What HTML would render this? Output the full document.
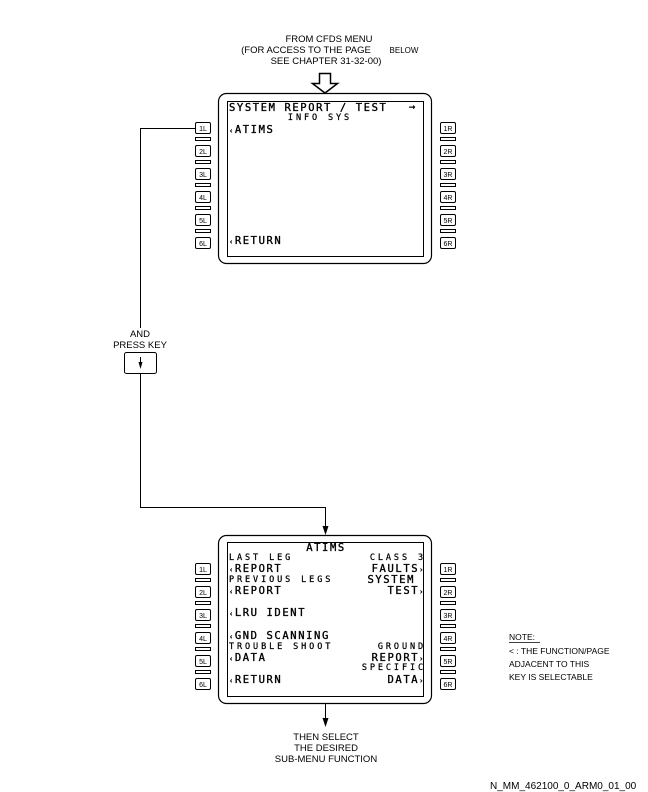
<!DOCTYPE html>
<html><head><style>
body{margin:0;background:#fff;}
svg{display:block;}
text{font-family:"Liberation Sans",sans-serif;fill:#000;}
.m{font-family:"DejaVu Sans Mono","Liberation Mono",monospace;font-size:10.5px;letter-spacing:1.6px;stroke:#000;stroke-width:0.35px;}
.s{font-family:"DejaVu Sans Mono","Liberation Mono",monospace;font-size:8.5px;letter-spacing:2.9px;stroke:#000;stroke-width:0.25px;}
.k{font-family:"Liberation Mono",monospace;font-size:7px;}
</style></head><body>
<svg width="648" height="792" viewBox="0 0 648 792" xmlns="http://www.w3.org/2000/svg">
<g font-size="9.5" text-anchor="middle">
<text x="329" y="42">FROM CFDS MENU</text>
<text x="306" y="53">(FOR ACCESS TO THE PAGE</text>
<text x="404" y="53" font-size="8">BELOW</text>
<text x="326" y="64">SEE CHAPTER 31-32-00)</text>
</g>
<path d="M319.5 73.5 H330.5 V83.5 H337.5 L325 93 L312.5 83.5 H319.5 Z" fill="none" stroke="#000" stroke-width="1.5"/>

<rect x="218.5" y="93.5" width="213" height="170" rx="8" fill="none" stroke="#000" stroke-width="1.2"/>
<rect x="227.5" y="101.5" width="196" height="155" fill="none" stroke="#000"/>
<text class="m" x="229" y="111">SYSTEM REPORT / TEST</text>
<text class="m" x="409" y="110">→</text>
<text class="s" x="320" y="120" text-anchor="middle">INFO SYS</text>
<text class="m" x="229" y="133"><tspan font-size="7">‹</tspan>ATIMS</text>
<text class="m" x="229" y="244"><tspan font-size="7">‹</tspan>RETURN</text>

<rect x="218.5" y="535.5" width="213" height="168" rx="8" fill="none" stroke="#000" stroke-width="1.2"/>
<rect x="227.5" y="542.5" width="196" height="154" fill="none" stroke="#000"/>
<text class="m" x="326" y="551" text-anchor="middle">ATIMS</text>
<text class="s" x="229" y="560">LAST LEG</text>
<text class="s" x="426" y="560" text-anchor="end">CLASS 3</text>
<text class="m" x="229" y="572"><tspan font-size="7">‹</tspan>REPORT</text>
<text class="m" x="425" y="572" text-anchor="end">FAULTS<tspan font-size="7">›</tspan></text>
<text class="s" x="229" y="582">PREVIOUS LEGS</text>
<text class="m" x="415" y="583" text-anchor="end">SYSTEM</text>
<text class="m" x="229" y="594"><tspan font-size="7">‹</tspan>REPORT</text>
<text class="m" x="425" y="594" text-anchor="end">TEST<tspan font-size="7">›</tspan></text>
<text class="m" x="229" y="616"><tspan font-size="7">‹</tspan>LRU IDENT</text>
<text class="m" x="229" y="639"><tspan font-size="7">‹</tspan>GND SCANNING</text>
<text class="s" x="229" y="649">TROUBLE SHOOT</text>
<text class="s" x="426" y="649" text-anchor="end">GROUND</text>
<text class="m" x="229" y="661"><tspan font-size="7">‹</tspan>DATA</text>
<text class="m" x="425" y="661" text-anchor="end">REPORT<tspan font-size="7">›</tspan></text>
<text class="s" x="426" y="670" text-anchor="end">SPECIFIC</text>
<text class="m" x="229" y="683"><tspan font-size="7">‹</tspan>RETURN</text>
<text class="m" x="425" y="683" text-anchor="end">DATA<tspan font-size="7">›</tspan></text>

<g fill="none" stroke="#000" stroke-width="1">
<g id="kt">
<rect x="195.5" y="122.5" width="15" height="11" rx="1.5"/>
<rect x="195.5" y="137.5" width="15" height="3"/>
<rect x="195.5" y="145.5" width="15" height="11" rx="1.5"/>
<rect x="195.5" y="160.5" width="15" height="3"/>
<rect x="195.5" y="168.5" width="15" height="11" rx="1.5"/>
<rect x="195.5" y="183.5" width="15" height="3"/>
<rect x="195.5" y="191.5" width="15" height="11" rx="1.5"/>
<rect x="195.5" y="206.5" width="15" height="3"/>
<rect x="195.5" y="214.5" width="15" height="11" rx="1.5"/>
<rect x="195.5" y="229.5" width="15" height="3"/>
<rect x="195.5" y="237.5" width="15" height="11" rx="1.5"/>
</g>
<use href="#kt" x="245"/>
<use href="#kt" y="441"/>
<use href="#kt" x="245" y="441"/>
</g>
<g class="k" text-anchor="middle">
<g id="lt">
<text x="203" y="131">1L</text><text x="203" y="154">2L</text><text x="203" y="177">3L</text>
<text x="203" y="200">4L</text><text x="203" y="223">5L</text><text x="203" y="246">6L</text>
</g>
<use href="#lt" y="441"/>
<g id="rt">
<text x="448" y="131">1R</text><text x="448" y="154">2R</text><text x="448" y="177">3R</text>
<text x="448" y="200">4R</text><text x="448" y="223">5R</text><text x="448" y="246">6R</text>
</g>
<use href="#rt" y="441"/>
</g>

<g fill="none" stroke="#000" stroke-width="1">
<path d="M195 128.5 H140.5 V328"/>
<path d="M140.5 374 V507.5 H325.5 V528"/>
<path d="M325.5 704 V722"/>
<rect x="124.5" y="352.5" width="32" height="21" rx="2"/>
<path d="M140.5 357 V366"/>
</g>
<g fill="#000">
<path d="M322.5 526 L328.5 526 L325.5 535 Z"/>
<path d="M322.5 718 L328.5 718 L325.5 727 Z"/>
<path d="M138.5 362 L142.5 362 L140.5 369 Z"/>
</g>
<g font-size="9.5" text-anchor="middle">
<text x="140" y="337">AND</text>
<text x="140" y="348">PRESS KEY</text>
<text x="326" y="740">THEN SELECT</text>
<text x="326" y="751">THE DESIRED</text>
<text x="326" y="762">SUB-MENU FUNCTION</text>
</g>
<g font-size="8.5">
<text x="509" y="640">NOTE:</text>
<line x1="509" y1="642.5" x2="540" y2="642.5" stroke="#000" stroke-width="0.8"/>
<text x="509" y="654">&lt; : THE FUNCTION/PAGE</text>
<text x="509" y="667">ADJACENT TO THIS</text>
<text x="509" y="680">KEY IS SELECTABLE</text>
<text x="490" y="789" font-size="10">N_MM_462100_0_ARM0_01_00</text>
</g>
</svg>
</body></html>
